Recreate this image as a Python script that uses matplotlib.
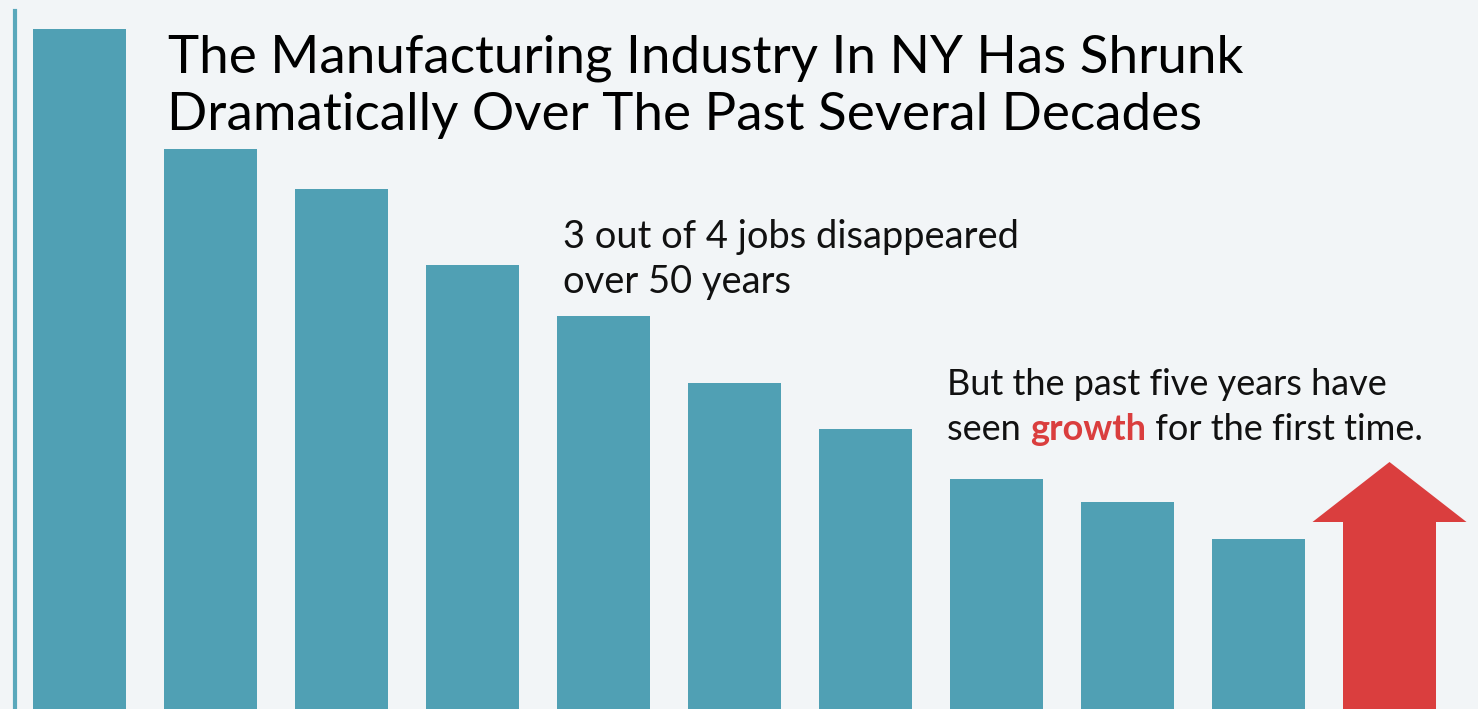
import matplotlib
matplotlib.use("Agg")
import matplotlib.pyplot as plt

# bar heights (relative job counts, no axis shown)
periods = list(range(10))
jobs_rel = [680, 560, 520, 444, 393, 326, 280, 230, 207, 170]
growth_rel = 247  # height of the red arrow tip

title_lines = ["The Manufacturing Industry In NY Has Shrunk",
               "Dramatically Over The Past Several Decades"]
note1_lines = ["3 out of 4 jobs disappeared", "over 50 years"]
note2_line1 = "But the past five years have"
note2_line2 = ["seen ", "growth", " for the first time."]

bg = "#f2f5f7"
teal = "#50a0b4"
red = "#da3e3e"

plt.rcParams["font.family"] = ["Lato", "DejaVu Sans"]

W, H = 1478, 709
fig = plt.figure(figsize=(W / 100, H / 100), dpi=100, facecolor=bg)
ax = fig.add_axes([0, 0, 1, 1], facecolor=bg)

step = 131.0
x0 = 79.5
ax.set_xlim(-x0 / step, (W - x0) / step)
ax.set_ylim(0, H)
ax.axis("off")

ax.bar(periods, jobs_rel, width=93 / step, color=teal, linewidth=0)

# red arrow for the recent growth
ax.arrow(len(periods), 0, 0, growth_rel, width=93 / step,
         head_width=154 / step, head_length=60, length_includes_head=True,
         color=red, linewidth=0)

# thin left rule
ax.axvline((14.5 - x0) / step, ymin=0, ymax=(H - 11) / H, color="#5aa8bb", lw=3)


def px(x, y):
    return x / W, 1 - y / H


def fit(t, width):
    fig.canvas.draw()
    w = t.get_window_extent().width
    t.set_fontsize(t.get_fontsize() * width / w)


t1 = fig.text(*px(168, 73), title_lines[0], fontsize=40,
              va="baseline", color="black")
fit(t1, 1073)
t2 = fig.text(*px(167, 130), title_lines[1], fontsize=t1.get_fontsize(),
              va="baseline", color="black")

n1 = fig.text(*px(563, 248), note1_lines[0], fontsize=24, va="baseline",
              color="#111111")
fit(n1, 457)
n1b = fig.text(*px(563, 293), note1_lines[1], fontsize=n1.get_fontsize(),
               va="baseline", color="#111111")

m1 = fig.text(*px(947, 395), note2_line1, fontsize=24, va="baseline",
              color="#111111")
fit(m1, 441)
fs = m1.get_fontsize()
s1 = fig.text(*px(947, 440), note2_line2[0], fontsize=fs, va="baseline",
              color="#111111")
s2 = ax.annotate(note2_line2[1], xy=(1, 0), xycoords=s1, va="bottom",
                 fontsize=fs, fontweight="bold", color=red)
s3 = ax.annotate(note2_line2[2], xy=(1, 0), xycoords=s2, va="bottom",
                 fontsize=fs, color="#111111")

fig.savefig("out.png", dpi=100, facecolor=bg)
